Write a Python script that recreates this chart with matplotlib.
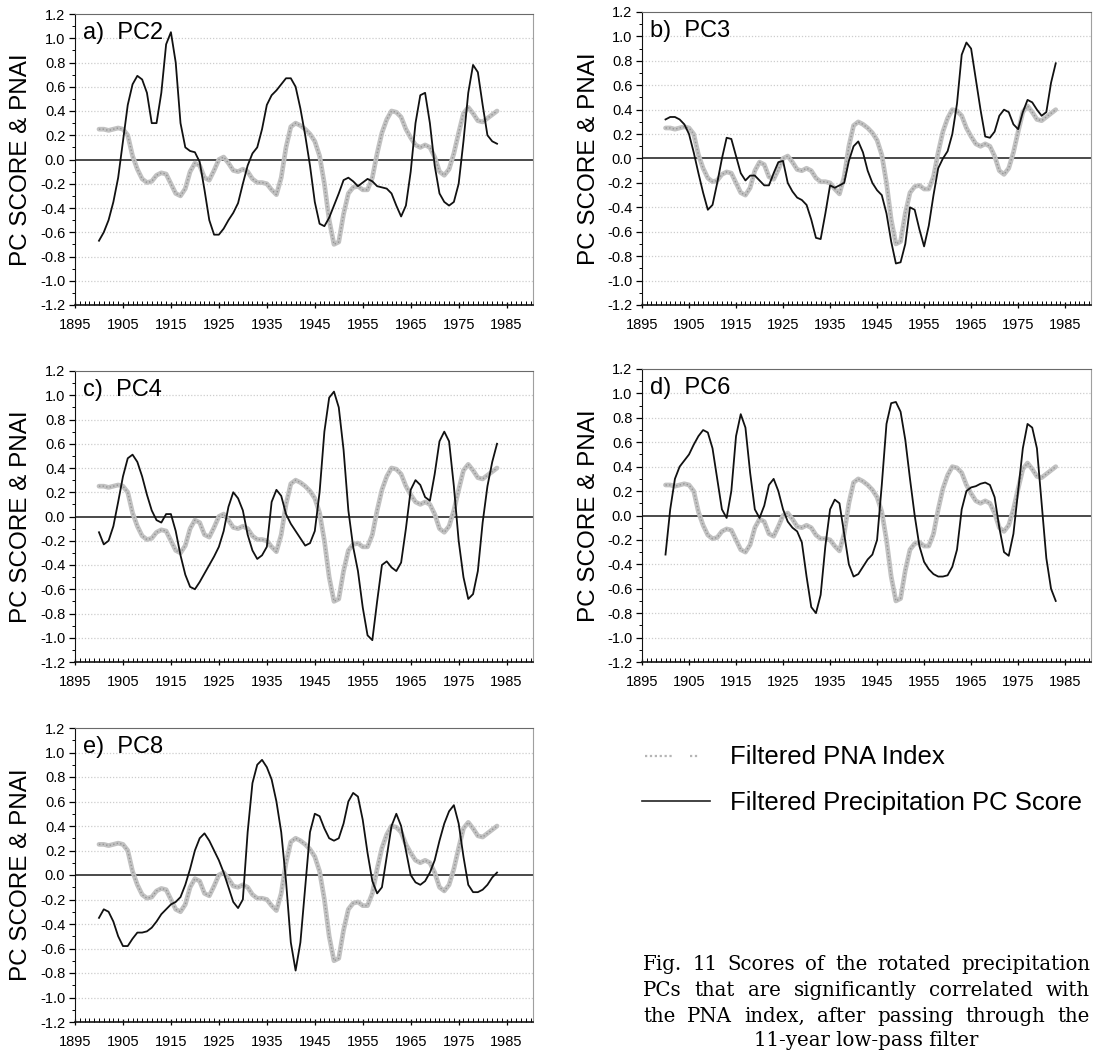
import numpy as np
import matplotlib
matplotlib.use("Agg")
import matplotlib.pyplot as plt
from matplotlib.ticker import FixedLocator, MultipleLocator, NullFormatter

plt.rcParams['font.family'] = ['Liberation Sans', 'DejaVu Sans']

# ---------------- data ----------------
years = list(range(1900, 1984))

pna = [0.25, 0.25, 0.24, 0.25, 0.26, 0.25, 0.20, 0.03, -0.08, -0.16,
       -0.19, -0.18, -0.13, -0.11, -0.12, -0.20, -0.28, -0.30, -0.24, -0.10,
       -0.03, -0.05, -0.15, -0.17, -0.09, 0.00, 0.02, -0.03, -0.09, -0.10,
       -0.08, -0.10, -0.16, -0.19, -0.19, -0.20, -0.25, -0.29, -0.15, 0.10,
       0.27, 0.30, 0.28, 0.25, 0.21, 0.15, 0.03, -0.20, -0.50, -0.70,
       -0.68, -0.45, -0.28, -0.23, -0.22, -0.25, -0.25, -0.15, 0.05, 0.22,
       0.33, 0.40, 0.39, 0.35, 0.25, 0.18, 0.12, 0.10, 0.12, 0.10,
       0.02, -0.10, -0.13, -0.08, 0.05, 0.22, 0.38, 0.43, 0.38, 0.32,
       0.31, 0.34, 0.37, 0.40]

pc2 = [-0.67, -0.60, -0.50, -0.35, -0.15, 0.15, 0.45, 0.62, 0.69, 0.66,
       0.55, 0.30, 0.30, 0.55, 0.95, 1.05, 0.80, 0.30, 0.10, 0.07,
       0.06, -0.02, -0.25, -0.50, -0.62, -0.62, -0.57, -0.50, -0.44, -0.36,
       -0.20, -0.05, 0.05, 0.10, 0.25, 0.45, 0.53, 0.57, 0.62, 0.67,
       0.67, 0.60, 0.42, 0.20, -0.05, -0.35, -0.53, -0.55, -0.48, -0.38,
       -0.28, -0.17, -0.15, -0.18, -0.22, -0.19, -0.16, -0.18, -0.22, -0.23,
       -0.24, -0.28, -0.38, -0.47, -0.38, -0.10, 0.30, 0.53, 0.55, 0.30,
       -0.05, -0.28, -0.35, -0.38, -0.35, -0.20, 0.15, 0.55, 0.78, 0.72,
       0.45, 0.20, 0.15, 0.13]

pc3 = [0.32, 0.34, 0.34, 0.32, 0.28, 0.20, 0.05, -0.12, -0.28, -0.42,
       -0.38, -0.20, 0.00, 0.17, 0.16, 0.02, -0.12, -0.18, -0.14, -0.14,
       -0.18, -0.22, -0.22, -0.12, -0.03, -0.02, -0.20, -0.27, -0.32, -0.34,
       -0.38, -0.50, -0.65, -0.66, -0.45, -0.22, -0.24, -0.22, -0.20, -0.02,
       0.10, 0.14, 0.05, -0.10, -0.20, -0.26, -0.30, -0.45, -0.68, -0.86,
       -0.85, -0.70, -0.40, -0.42, -0.58, -0.72, -0.55, -0.30, -0.08, 0.00,
       0.06, 0.20, 0.45, 0.85, 0.95, 0.90, 0.65, 0.40, 0.18, 0.17,
       0.22, 0.35, 0.40, 0.38, 0.28, 0.24, 0.38, 0.48, 0.46, 0.40,
       0.35, 0.38, 0.62, 0.78]

pc4 = [-0.13, -0.23, -0.20, -0.08, 0.12, 0.33, 0.48, 0.51, 0.45, 0.33,
       0.18, 0.05, -0.03, -0.05, 0.02, 0.02, -0.12, -0.32, -0.48, -0.58,
       -0.60, -0.54, -0.47, -0.40, -0.33, -0.25, -0.12, 0.08, 0.20, 0.15,
       0.05, -0.15, -0.28, -0.35, -0.32, -0.25, 0.12, 0.22, 0.17, 0.02,
       -0.06, -0.12, -0.18, -0.24, -0.22, -0.12, 0.20, 0.70, 0.98, 1.03,
       0.90, 0.55, 0.05, -0.25, -0.45, -0.75, -0.98, -1.02, -0.70, -0.40,
       -0.37, -0.42, -0.45, -0.38, -0.10, 0.22, 0.30, 0.26, 0.16, 0.13,
       0.35, 0.62, 0.70, 0.62, 0.25, -0.20, -0.50, -0.68, -0.64, -0.45,
       -0.05, 0.25, 0.45, 0.60]

pc6 = [-0.32, 0.05, 0.30, 0.40, 0.45, 0.50, 0.58, 0.65, 0.70, 0.68,
       0.55, 0.30, 0.05, -0.02, 0.20, 0.65, 0.83, 0.72, 0.35, 0.05,
       -0.02, 0.08, 0.25, 0.30, 0.20, 0.05, -0.05, -0.10, -0.13, -0.22,
       -0.50, -0.75, -0.80, -0.65, -0.25, 0.05, 0.13, 0.10, -0.15, -0.40,
       -0.50, -0.48, -0.42, -0.36, -0.32, -0.20, 0.25, 0.75, 0.92, 0.93,
       0.85, 0.62, 0.30, 0.00, -0.25, -0.38, -0.44, -0.48, -0.50, -0.50,
       -0.49, -0.42, -0.28, 0.05, 0.20, 0.23, 0.24, 0.26, 0.27, 0.25,
       0.15, -0.10, -0.30, -0.33, -0.15, 0.20, 0.55, 0.75, 0.72, 0.55,
       0.10, -0.35, -0.60, -0.70]

pc8 = [-0.35, -0.28, -0.30, -0.38, -0.50, -0.58, -0.58, -0.52, -0.47, -0.47,
       -0.46, -0.43, -0.38, -0.32, -0.28, -0.24, -0.22, -0.18, -0.08, 0.05,
       0.20, 0.30, 0.34, 0.28, 0.20, 0.12, 0.02, -0.10, -0.22, -0.27,
       -0.20, 0.35, 0.75, 0.90, 0.94, 0.88, 0.78, 0.60, 0.35, -0.05,
       -0.55, -0.78, -0.55, -0.10, 0.35, 0.50, 0.48, 0.38, 0.30, 0.28,
       0.30, 0.42, 0.60, 0.67, 0.64, 0.45, 0.18, -0.05, -0.15, -0.10,
       0.15, 0.40, 0.50, 0.40, 0.20, 0.00, -0.06, -0.08, -0.05, 0.02,
       0.12, 0.28, 0.42, 0.52, 0.57, 0.42, 0.15, -0.08, -0.14, -0.14,
       -0.12, -0.08, -0.02, 0.02]

panel_titles = ["a)  PC2", "b)  PC3", "c)  PC4", "d)  PC6", "e)  PC8"]
panel_series = [pc2, pc3, pc4, pc6, pc8]

xticks = [1895, 1905, 1915, 1925, 1935, 1945, 1955, 1965, 1975, 1985]
yticks = [1.2, 1.0, 0.8, 0.6, 0.4, 0.2, 0.0, -0.2, -0.4, -0.6, -0.8, -1.0, -1.2]
ytick_labels = ["1.2", "1.0", "0.8", "0.6", "0.4", "0.2", "0.0",
                "-0.2", "-0.4", "-0.6", "-0.8", "-1.0", "-1.2"]
ylabel_text = "PC SCORE & PNAI"
legend_labels = ["Filtered PNA Index", "Filtered Precipitation PC Score"]
caption_lines = [
    "Fig. 11  Scores of the rotated precipitation",
    "PCs that are significantly correlated with",
    "the PNA index, after passing through the",
    "11-year low-pass filter",
]

# ---------------- layout ----------------
W, H = 1093, 1054
fig = plt.figure(figsize=(W / 100, H / 100), dpi=100)

# pixel boxes: left, top, right, bottom
boxes = [(75, 14, 533, 305), (642, 12, 1091, 305),
         (75, 371, 533, 662), (642, 369, 1091, 662),
         (75, 728, 533, 1022)]


def px_rect(l, t, r, b):
    return [l / W, 1 - b / H, (r - l) / W, (b - t) / H]


for box, title, series in zip(boxes, panel_titles, panel_series):
    ax = fig.add_axes(px_rect(*box))
    ax.set_xlim(1895.0, 1990.5)
    ax.set_ylim(-1.2, 1.2)
    # faint dotted guide lines
    for yv in yticks:
        if abs(yv) > 1e-9 and abs(abs(yv) - 1.2) > 1e-9:
            ax.axhline(yv, color='#cdcdcd', lw=0.9, ls=(0, (1, 1.5)), zorder=1)
    ax.axhline(0.0, color='#4a4a4a', lw=1.4, zorder=2)
    # PNA index: thick beaded gray line
    ax.plot(years, pna, color='#c2c2c2', lw=3.4, solid_capstyle='round', zorder=3)
    ax.plot(years, pna, color='#959595', lw=1.0, ls=(0, (1, 1.6)), zorder=3)
    # precipitation PC score
    ax.plot(years, series, color='#111111', lw=1.3, zorder=4)

    ax.yaxis.set_major_locator(FixedLocator(yticks))
    ax.set_yticklabels(ytick_labels)
    ax.yaxis.set_minor_locator(MultipleLocator(0.1))
    ax.xaxis.set_major_locator(FixedLocator(xticks))
    ax.set_xticklabels([str(v) for v in xticks])
    ax.xaxis.set_minor_locator(MultipleLocator(1))
    ax.xaxis.set_minor_formatter(NullFormatter())
    ax.tick_params(axis='y', which='major', direction='out', length=4, width=0.9,
                   labelsize=10.5, pad=3)
    ax.tick_params(axis='y', which='minor', direction='out', length=2, width=0.7)
    ax.tick_params(axis='x', which='major', direction='inout', length=5, width=0.9,
                   labelsize=10.5, pad=7)
    ax.tick_params(axis='x', which='minor', direction='in', length=3, width=0.7)

    ax.spines['left'].set_color('#111')
    ax.spines['bottom'].set_color('#111')
    ax.spines['bottom'].set_linewidth(1.2)
    ax.spines['top'].set_color('#6a6a6a')
    ax.spines['right'].set_color('#a0a0a0')

    ax.set_ylabel(ylabel_text, fontsize=17.5)
    ax.yaxis.set_label_coords(-0.094, 0.5)
    ax.text(0.018, 0.935, title, transform=ax.transAxes, fontsize=17,
            ha='left', va='center', zorder=5)

# ---------------- legend ----------------
lax = fig.add_axes([0, 0, 1, 1])
lax.set_xlim(0, W)
lax.set_ylim(H, 0)
lax.axis('off')
lax.plot([645, 672], [756, 756], color='#b5b5b5', lw=1.6, ls=(0, (1, 1.2)))
lax.plot([690, 698], [756, 756], color='#b5b5b5', lw=1.6, ls=(0, (1, 1.2)))
lax.plot([642, 710], [801, 801], color='#222', lw=1.2)
lax.text(730, 757, legend_labels[0], fontsize=18.5, ha='left', va='center')
lax.text(730, 803, legend_labels[1], fontsize=18.5, ha='left', va='center')

# ---------------- caption (justified) ----------------
renderer = fig.canvas.get_renderer()
cap_x0, cap_x1 = 643, 1090
cap_y = [964, 990, 1016, 1040]
cap_fs = 14.2
for i, (line, yc) in enumerate(zip(caption_lines, cap_y)):
    if i == len(caption_lines) - 1:
        lax.text((cap_x0 + cap_x1) / 2, yc, line, fontsize=cap_fs,
                 family='DejaVu Serif', ha='center', va='center')
        continue
    words = line.split()
    txts = [lax.text(0, yc, w, fontsize=cap_fs, family='DejaVu Serif',
                     ha='left', va='center') for w in words]
    widths = [t.get_window_extent(renderer).width for t in txts]
    gap = (cap_x1 - cap_x0 - sum(widths)) / (len(words) - 1)
    x = cap_x0
    for t, wdt in zip(txts, widths):
        t.set_x(x)
        x += wdt + gap

fig.savefig("out.png", dpi=100)
